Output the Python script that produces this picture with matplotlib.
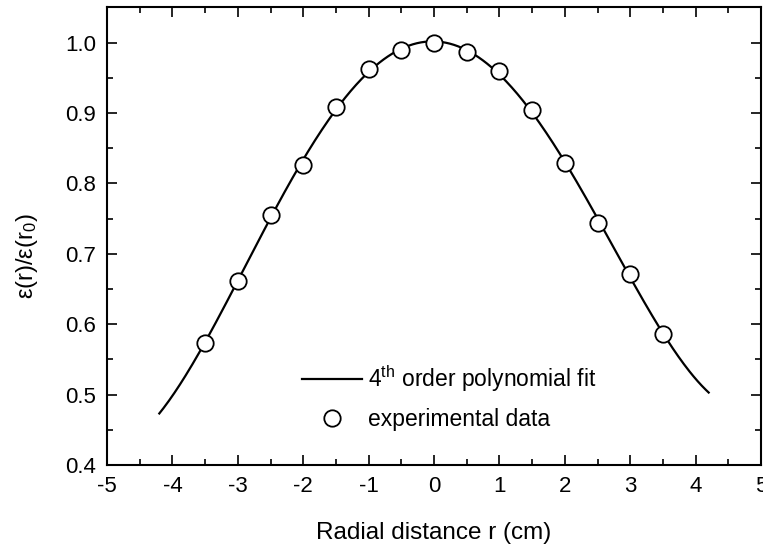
import numpy as np
import matplotlib
matplotlib.use("Agg")
import matplotlib.pyplot as plt
from matplotlib.ticker import MultipleLocator

plt.rcParams['font.family'] = ['Liberation Sans', 'DejaVu Sans']
plt.rcParams['mathtext.fontset'] = 'custom'
plt.rcParams['mathtext.rm'] = 'Liberation Sans'
plt.rcParams['mathtext.it'] = 'Liberation Sans'

# Experimental data
r_data = [-3.5, -3.0, -2.5, -2.0, -1.5, -1.0, -0.5, 0.0, 0.5, 1.0, 1.5, 2.0, 2.5, 3.0, 3.5]
eps_data = [0.574, 0.662, 0.755, 0.826, 0.908, 0.962, 0.989, 1.000, 0.986, 0.959,
            0.904, 0.829, 0.744, 0.672, 0.586]

# Fit range
fit_range = [-4.2, 4.2]

x_ticks = [-5, -4, -3, -2, -1, 0, 1, 2, 3, 4, 5]
y_ticks = [0.4, 0.5, 0.6, 0.7, 0.8, 0.9, 1.0]

coef = np.polyfit(r_data, eps_data, 4)
r_fit = np.linspace(fit_range[0], fit_range[1], 400)
eps_fit = np.polyval(coef, r_fit)

fig = plt.figure(figsize=(7.63, 5.49), dpi=100)
ax = fig.add_axes([107/763, 1-465/549, (761-107)/763, (465-6.7)/549])

ax.plot(r_fit, eps_fit, color='black', lw=1.6, label=r'4$^{\rm th}$ order polynomial fit', zorder=2)
ax.plot(r_data, eps_data, linestyle='none', marker='o', ms=11.8, mfc='white', mec='black',
        mew=1.3, label='experimental data', zorder=3)

ax.set_xlim(-5, 5)
ax.set_ylim(0.4, 1.051)
ax.set_xticks(x_ticks)
ax.set_xticklabels([str(t) for t in x_ticks])
ax.set_yticks(y_ticks)
ax.set_yticklabels([f"{t:.1f}" for t in y_ticks])
ax.xaxis.set_minor_locator(MultipleLocator(0.5))
ax.yaxis.set_minor_locator(MultipleLocator(0.05))
ax.tick_params(which='both', direction='in', top=True, right=True, labelsize=16, width=1.2, pad=8)
ax.tick_params(which='major', length=7.5)
ax.tick_params(which='minor', length=4.5)
for s in ax.spines.values():
    s.set_linewidth(1.5)

ax.set_xlabel('Radial distance r (cm)', fontsize=17.5)
ax.xaxis.set_label_coords(0.5, -(533-465)/458.3)
ax.xaxis.label.set_va('center')
ax.set_ylabel(r'ε(r)/ε(r$_0$)', fontsize=17)
ax.yaxis.set_label_coords((27-107)/654, (465-256)/458.3)
ax.yaxis.label.set_va('center')

fs = 16.5
leg = ax.legend(frameon=False, fontsize=fs, handlelength=60/22.9, handletextpad=0.28,
                labelspacing=0.6, borderpad=0, borderaxespad=0,
                loc='center left', bbox_to_anchor=(301.7/763, 1-397/549),
                bbox_transform=fig.transFigure)

fig.savefig('out.png', dpi=100)
